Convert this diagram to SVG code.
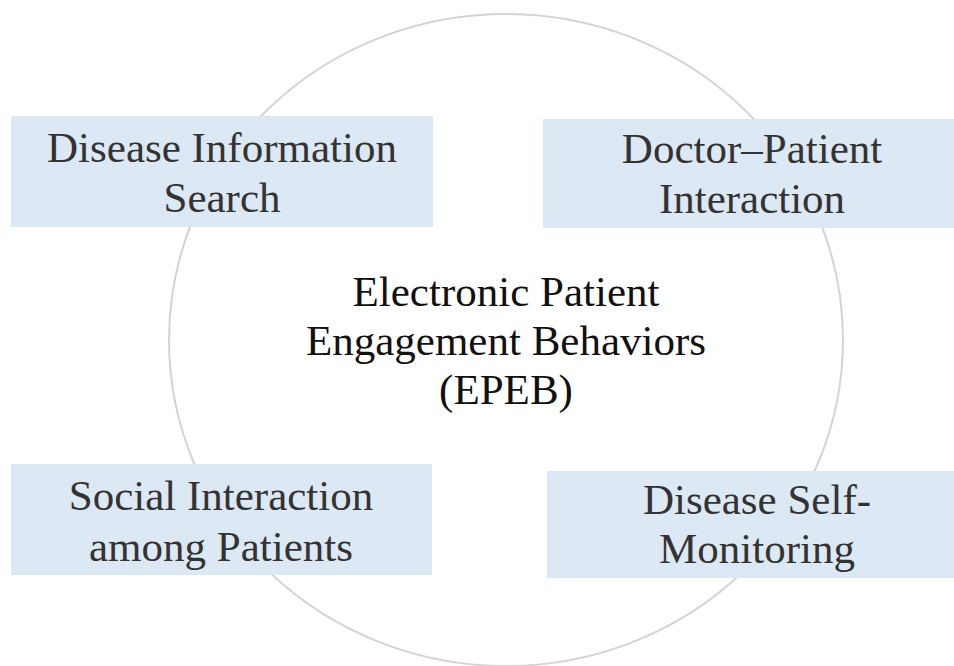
<svg xmlns="http://www.w3.org/2000/svg" width="954" height="666" viewBox="0 0 954 666">
<style>
.box{fill:#dde8f5;}
.lbl{font-family:"Liberation Serif","Times New Roman",serif;font-size:43px;fill:#333;text-anchor:middle;}
.ctr{font-family:"Liberation Serif","Times New Roman",serif;font-size:43px;fill:#111;text-anchor:middle;}
</style>
<rect width="954" height="666" fill="#fff"/>
<g id="connectors">
<ellipse cx="506" cy="340" rx="337" ry="326" fill="none" stroke="#d4d4d4" stroke-width="2"/>
</g>
<g id="center">
<text class="ctr" x="506" y="306">Electronic Patient</text>
<text class="ctr" x="506" y="355">Engagement Behaviors</text>
<text class="ctr" x="506" y="404">(EPEB)</text>
</g>
<g id="search">
<rect class="box" x="11" y="116" width="422" height="111"/>
<text class="lbl" x="222" y="162">Disease Information</text>
<text class="lbl" x="222" y="212">Search</text>
</g>
<g id="doctor">
<rect class="box" x="543" y="119" width="411" height="109"/>
<text class="lbl" x="752" y="163">Doctor–Patient</text>
<text class="lbl" x="752" y="213">Interaction</text>
</g>
<g id="social">
<rect class="box" x="11" y="464" width="421" height="111"/>
<text class="lbl" x="221" y="510">Social Interaction</text>
<text class="lbl" x="221" y="561">among Patients</text>
</g>
<g id="monitor">
<rect class="box" x="547" y="471" width="407" height="107"/>
<text class="lbl" x="757" y="514">Disease Self-</text>
<text class="lbl" x="757" y="563">Monitoring</text>
</g>
</svg>
